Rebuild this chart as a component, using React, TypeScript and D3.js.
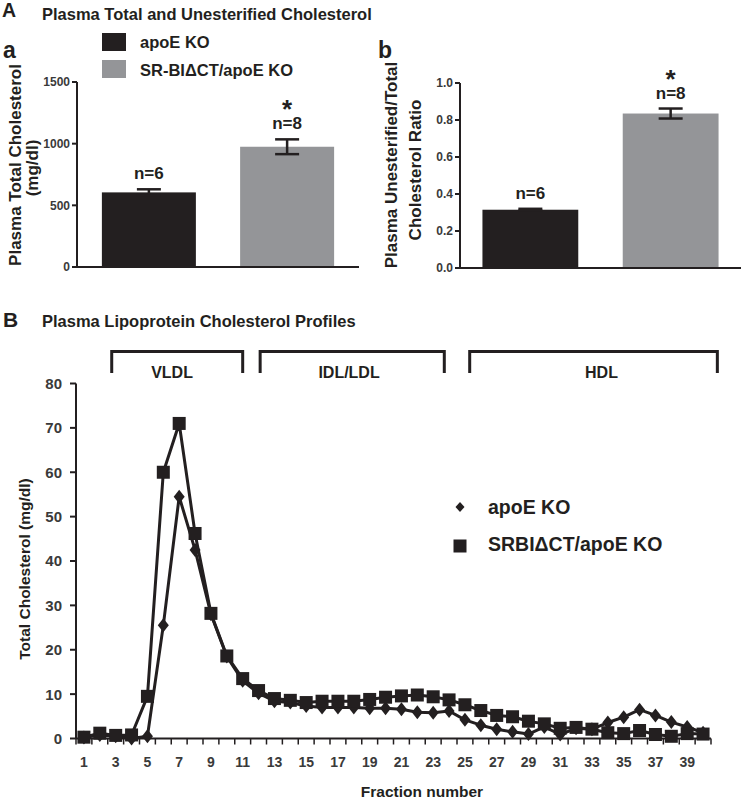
import React from "react";
import * as d3 from "d3";

// ---------- Data ----------
const groups = ["apoE KO", "SR-BIΔCT/apoE KO"];
const totalChol = [605, 975];
const totalCholSem = [25, 60];
const ratio = [0.315, 0.835];
const ratioSem = [0.005, 0.027];
const nLabels = ["n=6", "n=8"];
const significant = [false, true];
const totalTicks = [0, 500, 1000, 1500];
const ratioTicks = [0, 0.2, 0.4, 0.6, 0.8, 1.0];

const fractions = d3.range(1, 41);
const apoeKO = [
  0.2, 0.8, 0.5, 0, 0.5, 25.5, 54.5, 42.5, 28, 18.5,
  13, 10.2, 8.4, 8.1, 7.3, 7.0, 7.0, 7.0, 6.8, 6.8,
  6.6, 5.9, 5.8, 6.2, 4.2, 3.0, 2.1, 1.5, 1.0, 2.6,
  0.9, 2.3, 2.1, 3.6, 4.8, 6.5, 5.2, 3.7, 2.6, 1.3,
];
const srbiKO = [
  0.3, 1.2, 0.7, 0.8, 9.5, 60, 71, 46.2, 28.2, 18.6,
  13.5, 10.8, 9.0, 8.6, 8.1, 8.4, 8.4, 8.4, 8.8, 9.3,
  9.6, 9.8, 9.4, 8.7, 7.6, 6.3, 5.2, 4.9, 3.9, 3.3,
  2.3, 2.5, 2.1, 1.3, 1.1, 1.8, 0.9, 0.5, 1.1, 1.0,
];
const profileYTicks = [0, 10, 20, 30, 40, 50, 60, 70, 80];
const profileXLabels = d3.range(1, 40, 2);
const lipoClasses = ["VLDL", "IDL/LDL", "HDL"];
const lipoStart = [2.75, 12.1, 25.3];
const lipoEnd = [11.0, 23.7, 40.9];
const lipoLabelAt = [6.55, 17.7, 33.6];
const profileSeries = ["apoE KO", "SRBIΔCT/apoE KO"];

// ---------- Styles ----------
const FONT = "'Liberation Sans', Arial, Helvetica, sans-serif";
const INK = "#231f20";
const GRAY = "#949598";
const TICKTXT = "#3a3a3a";

function BarPanel(props: {
  values: number[];
  sems: number[];
  ticks: number[];
  domainMax: number;
  x0: number;
  x1: number;
  y0: number;
  y1: number;
  fmt: (v: number) => string;
  pi: number;
  po: number;
}) {
  const { values, sems, ticks, domainMax, x0, x1, y0, y1, fmt, pi, po } = props;
  const y = d3.scaleLinear().domain([0, domainMax]).range([y0, y1]);
  const x = d3.scaleBand<string>().domain(groups).range([x0, x1]).paddingInner(pi).paddingOuter(po);
  const colors = [INK, GRAY];
  return (
    <g>
      {groups.map((g, i) => {
        const bx = x(g)!;
        const bw = x.bandwidth();
        const cx = bx + bw / 2;
        const top = y(values[i] + sems[i]);
        const bot = y(values[i] - sems[i]);
        const nBase = top - 10;
        return (
          <g key={g}>
            <rect x={bx} y={y(values[i])} width={bw} height={y0 - y(values[i])} fill={colors[i]} />
            <line x1={cx} x2={cx} y1={top} y2={bot} stroke={INK} strokeWidth={2.5} />
            <line x1={cx - 12} x2={cx + 12} y1={top} y2={top} stroke={INK} strokeWidth={2.5} />
            <line x1={cx - 12} x2={cx + 12} y1={bot} y2={bot} stroke={INK} strokeWidth={2.5} />
            <text x={cx} y={nBase} textAnchor="middle" fontSize={17} fontWeight="bold" fill={INK}>
              {nLabels[i]}
            </text>
            {significant[i] && (
              <text x={cx} y={nBase - 11} textAnchor="middle" fontSize={26} fontWeight="bold" fill={INK}>
                *
              </text>
            )}
          </g>
        );
      })}
      <line x1={x0} x2={x0} y1={y0} y2={y1} stroke={INK} strokeWidth={2} />
      <line x1={x0} x2={x1} y1={y0} y2={y0} stroke={INK} strokeWidth={2} />
      {ticks.map((t) => (
        <g key={t}>
          <line x1={x0 - 5} x2={x0} y1={y(t)} y2={y(t)} stroke={INK} strokeWidth={2} />
          <text x={x0 - 7} y={y(t)} dy="0.35em" textAnchor="end" fontSize={12} fontWeight="bold" fill={TICKTXT}>
            {fmt(t)}
          </text>
        </g>
      ))}
    </g>
  );
}

export default function App() {
  const x = d3.scaleLinear().domain([0.5, 40.5]).range([76, 711]);
  const y = d3.scaleLinear().domain([0, 80]).range([738.5, 383.5]);
  const line = d3
    .line<number>()
    .x((_, i) => x(fractions[i]))
    .y((d) => y(d));
  const diamond = "M0,-7L5.5,0L0,7L-5.5,0Z";
  const boundaries = d3.range(0.5, 41, 1);

  return (
    <svg
      width={748}
      height={804}
      style={{ position: "absolute", left: 0, top: 0, background: "#fff" }}
      fontFamily={FONT}
    >
      <rect x={0} y={0} width={748} height={804} fill="#fff" />
      {/* Section A */}
      <text x={2} y={17} fontSize={19.5} fontWeight="bold" fill={INK}>A</text>
      <text x={42} y={20} fontSize={16.5} fontWeight="bold" fill={INK}>
        Plasma Total and Unesterified Cholesterol
      </text>
      <text x={3} y={58} fontSize={23} fontWeight="bold" fill={INK}>a</text>
      <text x={378} y={58} fontSize={23} fontWeight="bold" fill={INK}>b</text>

      {/* Legend A */}
      <rect x={102} y={33} width={24} height={18} fill={INK} />
      <rect x={102} y={60} width={24} height={18} fill={GRAY} />
      <text x={140} y={48} fontSize={16.5} fontWeight="bold" fill={INK}>{groups[0]}</text>
      <text x={140} y={76} fontSize={16.5} fontWeight="bold" fill={INK}>{groups[1]}</text>

      {/* Panel a */}
      <BarPanel
        values={totalChol}
        sems={totalCholSem}
        ticks={totalTicks}
        domainMax={1500}
        x0={77}
        x1={359}
        y0={267}
        y1={82}
        fmt={(v) => String(v)}
        pi={0.32}
        po={0.18}
      />
      <text transform="translate(21,165) rotate(-90)" textAnchor="middle" fontSize={17} fontWeight="bold" fill={INK}>
        Plasma Total Cholesterol
      </text>
      <text transform="translate(38,168) rotate(-90)" textAnchor="middle" fontSize={17} fontWeight="bold" fill={INK}>
        (mg/dl)
      </text>

      {/* Panel b */}
      <BarPanel
        values={ratio}
        sems={ratioSem}
        ticks={ratioTicks}
        domainMax={1}
        x0={460}
        x1={741}
        y0={268}
        y1={83}
        fmt={(v) => v.toFixed(1)}
        pi={0.317}
        po={0.16}
      />
      <text transform="translate(397,165) rotate(-90)" textAnchor="middle" fontSize={17} fontWeight="bold" fill={INK}>
        Plasma Unesterified/Total
      </text>
      <text transform="translate(421,170) rotate(-90)" textAnchor="middle" fontSize={17} fontWeight="bold" fill={INK}>
        Cholesterol Ratio
      </text>

      {/* Section B */}
      <text x={3} y={327} fontSize={21} fontWeight="bold" fill={INK}>B</text>
      <text x={42} y={327} fontSize={16.5} fontWeight="bold" fill={INK}>
        Plasma Lipoprotein Cholesterol Profiles
      </text>

      {/* Brackets */}
      {lipoClasses.map((c, i) => {
        const a = x(lipoStart[i]);
        const b = x(lipoEnd[i]);
        return (
          <g key={c}>
            <path
              d={`M${a},373V351.5H${b}V373`}
              fill="none"
              stroke={INK}
              strokeWidth={3}
            />
            <text x={x(lipoLabelAt[i])} y={378} textAnchor="middle" fontSize={16} fontWeight="bold" fill={INK}>
              {c}
            </text>
          </g>
        );
      })}

      {/* Axes */}
      <line x1={76} x2={76} y1={y(0)} y2={y(80)} stroke={INK} strokeWidth={2} />
      <line x1={76} x2={711} y1={y(0)} y2={y(0)} stroke={INK} strokeWidth={2} />
      {profileYTicks.map((t) => (
        <g key={t}>
          <line x1={70} x2={76} y1={y(t)} y2={y(t)} stroke={INK} strokeWidth={2} />
          <text x={62} y={y(t)} dy="0.36em" textAnchor="end" fontSize={15} fontWeight="bold" fill={TICKTXT}>
            {t}
          </text>
        </g>
      ))}
      {boundaries.map((b) => (
        <line key={b} x1={x(b)} x2={x(b)} y1={y(0)} y2={y(0) + 6} stroke={INK} strokeWidth={1.5} />
      ))}
      {profileXLabels.map((f) => (
        <text key={f} x={x(f)} y={767} textAnchor="middle" fontSize={14} fontWeight="bold" fill={TICKTXT}>
          {f}
        </text>
      ))}
      <text x={422} y={797} textAnchor="middle" fontSize={15.5} fontWeight="bold" fill={INK}>
        Fraction number
      </text>
      <text transform="translate(30,569) rotate(-90)" textAnchor="middle" fontSize={15.5} fontWeight="bold" fill={INK}>
        Total Cholesterol (mg/dl)
      </text>

      {/* Series */}
      <path d={line(apoeKO)!} fill="none" stroke={INK} strokeWidth={3} strokeLinejoin="round" />
      {apoeKO.map((v, i) => (
        <path key={"d" + i} d={diamond} transform={`translate(${x(fractions[i])},${y(v)})`} fill={INK} />
      ))}
      <path d={line(srbiKO)!} fill="none" stroke={INK} strokeWidth={3} strokeLinejoin="round" />
      {srbiKO.map((v, i) => (
        <rect key={"s" + i} x={x(fractions[i]) - 6.5} y={y(v) - 6.5} width={13} height={13} fill={INK} />
      ))}

      {/* Legend B */}
      <path d="M0,-5L4.5,0L0,5L-4.5,0Z" transform="translate(460,507)" fill={INK} />
      <rect x={453.5} y={539.5} width={13} height={13} fill={INK} />
      <text x={488} y={514} fontSize={19.5} fontWeight="bold" fill={INK}>{profileSeries[0]}</text>
      <text x={488} y={551} fontSize={19.5} fontWeight="bold" fill={INK}>{profileSeries[1]}</text>
    </svg>
  );
}
